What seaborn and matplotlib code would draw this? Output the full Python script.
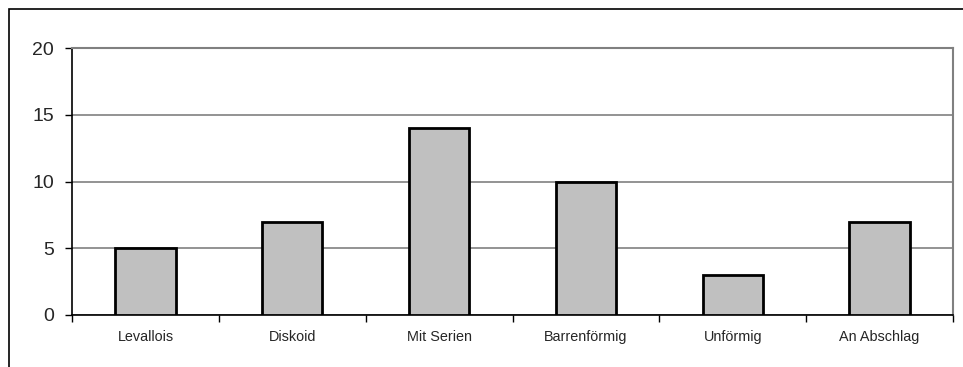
import numpy as np
import pandas as pd
import matplotlib.pyplot as plt
import seaborn as sns
from matplotlib.patches import Rectangle

categories = ["Levallois", "Diskoid", "Mit Serien", "Barrenförmig", "Unförmig", "An Abschlag"]
values = [5, 7, 14, 10, 3, 7]
y_ticks = [0, 5, 10, 15, 20]

sns.set_style("white")
plt.rcParams["font.family"] = ["Liberation Sans", "DejaVu Sans"]

df = pd.DataFrame({"Kategorie": categories, "Anzahl": values})

fig = plt.figure(figsize=(9.63, 3.67), dpi=100)
ax = fig.add_axes([0.0748, 0.1417, 0.9148, 0.7273])

# outer frame (cropped at right and bottom)
fig.patches.append(Rectangle((9 / 963, -0.1), 1.2, 1 - 9 / 367 + 0.1, transform=fig.transFigure,
                             fill=False, edgecolor="black", linewidth=1.2))

sns.barplot(data=df, x="Kategorie", y="Anzahl", color="#C0C0C0", saturation=1,
            edgecolor="black", linewidth=2, width=0.41, ax=ax, zorder=3)

ax.set_xlim(-0.5, len(categories) - 0.5)
ax.set_ylim(0, 20)
ax.set_yticks(y_ticks)
ax.yaxis.grid(True, color="#808080", linewidth=1.2, zorder=0)
ax.set_axisbelow(True)

ax.set_xticks(range(len(categories)))
ax.set_xticklabels(categories, fontsize=10.4)
ax.set_xticks(np.arange(-0.5, len(categories)), minor=True)
ax.tick_params(axis="x", which="major", length=0, pad=11)
ax.tick_params(axis="x", which="minor", length=5, width=1, color="black", direction="out", bottom=True)
ax.tick_params(axis="y", length=5, width=1, color="black", direction="out", left=True, labelsize=14, pad=8)

for side in ["left", "bottom"]:
    ax.spines[side].set_color("black")
    ax.spines[side].set_linewidth(1.2)
for side in ["top", "right"]:
    ax.spines[side].set_color("#808080")
    ax.spines[side].set_linewidth(1.5)

ax.set_xlabel("")
ax.set_ylabel("")

fig.savefig("out.png", dpi=100)
